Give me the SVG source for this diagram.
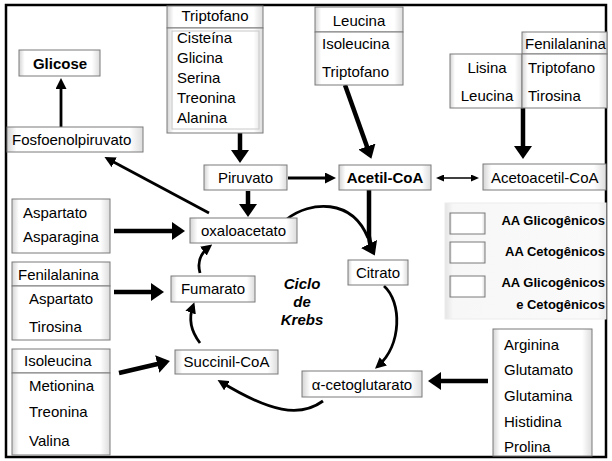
<svg xmlns="http://www.w3.org/2000/svg" width="612" height="461" viewBox="0 0 612 461">
<defs>
<linearGradient id="bev" x1="0" y1="0" x2="1" y2="0">
<stop offset="0" stop-color="#d4d4d4"/><stop offset="0.07" stop-color="#ffffff"/><stop offset="0.9" stop-color="#ffffff"/><stop offset="1" stop-color="#dcdcdc"/>
</linearGradient>
<linearGradient id="leg" x1="0" y1="0" x2="1" y2="0">
<stop offset="0" stop-color="#e4e4e4"/><stop offset="0.05" stop-color="#f7f7f7"/><stop offset="0.95" stop-color="#fafafa"/><stop offset="1" stop-color="#ececec"/>
</linearGradient>
<marker id="big" markerUnits="userSpaceOnUse" markerWidth="13" markerHeight="18" refX="9" refY="9" orient="auto"><path d="M0,0 L13,9 L0,18 z" fill="#000"/></marker>
<marker id="med" markerUnits="userSpaceOnUse" markerWidth="11" markerHeight="11" refX="7" refY="5.5" orient="auto"><path d="M0,0 L11,5.5 L0,11 z" fill="#000"/></marker>
<marker id="sm" markerUnits="userSpaceOnUse" markerWidth="8" markerHeight="7" refX="6" refY="3.5" orient="auto-start-reverse"><path d="M0,0 L8,3.5 L0,7 z" fill="#000"/></marker>
</defs>
<style>
.b{fill:url(#bev);stroke:#7a7a7a;stroke-width:1}
.in{fill:none;stroke:#c8c8c8;stroke-width:1}
text{font-family:"Liberation Sans",Arial,sans-serif;font-size:15px;fill:#000}
.c{text-anchor:middle}
.bd{font-weight:bold}
.lg{font-weight:bold;font-size:13px;text-anchor:end}
.kr{font-weight:bold;font-style:italic;text-anchor:middle}
.t{fill:none;stroke:#000;stroke-width:4.5;marker-end:url(#big)}
.m{fill:none;stroke:#000;stroke-width:2.8;marker-end:url(#med)}
.s{fill:none;stroke:#000;stroke-width:1.5;marker-end:url(#sm);marker-start:url(#sm)}
</style>
<rect x="0" y="0" width="612" height="461" fill="#fff"/>
<rect x="6" y="5" width="600" height="452" fill="none" stroke="#000" stroke-width="2.5"/>

<g id="connectors">
<path class="m" d="M61,127 L61,82"/>
<path class="m" d="M209,213 L108,159"/>
<path class="t" d="M240,133 L240,159"/>
<path class="t" d="M248,191 L248,213"/>
<path class="m" d="M288,178 L332,178"/>
<path class="s" d="M438,178 L477,178"/>
<path class="t" d="M345,85 L370,155"/>
<path class="t" d="M523,108 L523,155"/>
<path fill="none" stroke="#000" stroke-width="2.8" d="M287,219 C310,201 352,198 368,238"/>
<path class="t" d="M369,190 L369,236 Q370,246 373,252"/>
<path class="t" d="M114,231 L181,231"/>
<path class="t" d="M114,292 L160,292"/>
<path class="t" d="M119,373 L166,362"/>
<path class="t" d="M488,381 L432,381"/>
<path class="m" d="M384,286 C402,302 402,345 378,366"/>
<path class="m" d="M323,401 C300,418 270,412 221,382"/>
<path class="m" d="M200,343 C190,330 189,317 193,306"/>
<path class="m" d="M200,273 C197,262 201,253 209,247"/>
</g>

<g id="glicose"><rect class="b" x="19" y="50" width="81" height="26"/><text class="c bd" x="60" y="68.5">Glicose</text></g>
<g id="fosfoenolpiruvato"><rect class="b" x="7" y="127" width="136" height="25"/><text x="12" y="145">Fosfoenolpiruvato</text></g>

<g id="grupo-triptofano">
<rect class="b" x="167" y="6" width="96" height="22"/><text class="c" x="215" y="21">Triptofano</text>
<rect class="b" x="167" y="28" width="96" height="105"/><rect class="in" x="172" y="31" width="87" height="98"/>
<text x="177" y="43">Cisteína</text><text x="177" y="63">Glicina</text><text x="177" y="83">Serina</text><text x="177" y="103">Treonina</text><text x="177" y="123">Alanina</text>
</g>

<g id="grupo-leucina">
<rect class="b" x="315" y="7" width="88" height="25"/><text class="c" x="359" y="26">Leucina</text>
<rect class="b" x="315" y="32" width="88" height="53"/>
<text x="322" y="49">Isoleucina</text><text x="322" y="77">Triptofano</text>
</g>

<g id="grupo-fenilalanina-cet">
<rect class="b" x="522" y="32" width="85" height="22"/><text x="525" y="49">Fenilalanina</text>
<rect class="b" x="450" y="54" width="72" height="54"/>
<text class="c" x="487" y="73">Lisina</text><text class="c" x="487" y="101">Leucina</text>
<rect class="b" x="522" y="54" width="85" height="54"/>
<text x="528" y="73">Triptofano</text><text x="528" y="101">Tirosina</text>
</g>

<g id="piruvato"><rect class="b" x="204" y="165" width="83" height="25"/><text class="c" x="245.5" y="183">Piruvato</text></g>
<g id="acetil-coa"><rect class="b" x="339" y="165" width="92" height="25"/><text class="c bd" x="385" y="183">Acetil-CoA</text></g>
<g id="acetoacetil-coa"><rect class="b" x="483" y="164" width="123" height="26"/><text x="491" y="183">Acetoacetil-CoA</text></g>

<g id="oxaloacetato"><rect class="b" x="190" y="218" width="107" height="25"/><text class="c" x="243.5" y="236">oxaloacetato</text></g>
<g id="grupo-aspartato"><rect class="b" x="12" y="199" width="98" height="54"/><text x="23" y="218">Aspartato</text><text x="23" y="242">Asparagina</text></g>

<g id="grupo-fenilalanina-gli">
<rect class="b" x="12" y="262" width="98" height="24"/><text x="18" y="280">Fenilalanina</text>
<rect class="b" x="12" y="286" width="98" height="54"/><text x="29" y="304">Aspartato</text><text x="29" y="332">Tirosina</text>
</g>
<g id="fumarato"><rect class="b" x="171" y="276" width="84" height="26"/><text class="c" x="213" y="294">Fumarato</text></g>

<g id="grupo-isoleucina">
<rect class="b" x="12" y="349" width="98" height="24"/><text x="24" y="366">Isoleucina</text>
<rect class="b" x="12" y="373" width="98" height="82"/>
<text x="29" y="391">Metionina</text><text x="29" y="417">Treonina</text><text x="29" y="446">Valina</text>
</g>
<g id="succinil-coa"><rect class="b" x="175" y="350" width="103" height="24"/><text class="c" x="226.5" y="367">Succinil-CoA</text></g>

<g id="citrato"><rect class="b" x="348" y="260" width="60" height="25"/><text class="c" x="378" y="278">Citrato</text></g>
<g id="alfa-cetoglutarato"><rect class="b" x="302" y="371" width="120" height="26"/><text class="c" x="362" y="390">α-cetoglutarato</text></g>

<g id="grupo-arginina">
<rect class="b" x="493" y="329" width="99" height="127"/>
<text x="504" y="350">Arginina</text><text x="504" y="375">Glutamato</text><text x="504" y="401">Glutamina</text><text x="504" y="427">Histidina</text><text x="504" y="452">Prolina</text>
</g>

<g id="ciclo-krebs"><text class="kr" x="302" y="289">Ciclo</text><text class="kr" x="302" y="307">de</text><text class="kr" x="302" y="325">Krebs</text></g>

<g id="legenda">
<rect x="445" y="203" width="161" height="116" fill="url(#leg)" stroke="#ececec" stroke-width="1"/>
<rect class="b" x="450" y="213" width="35" height="21"/>
<rect class="b" x="450" y="242" width="35" height="21"/>
<rect class="b" x="450" y="276" width="35" height="21"/>
<text class="lg" x="605" y="225">AA Glicogênicos</text>
<text class="lg" x="605" y="256">AA Cetogênicos</text>
<text class="lg" x="605" y="287">AA Glicogênicos</text>
<text class="lg" x="605" y="309">e Cetogênicos</text>
</g>
</svg>
